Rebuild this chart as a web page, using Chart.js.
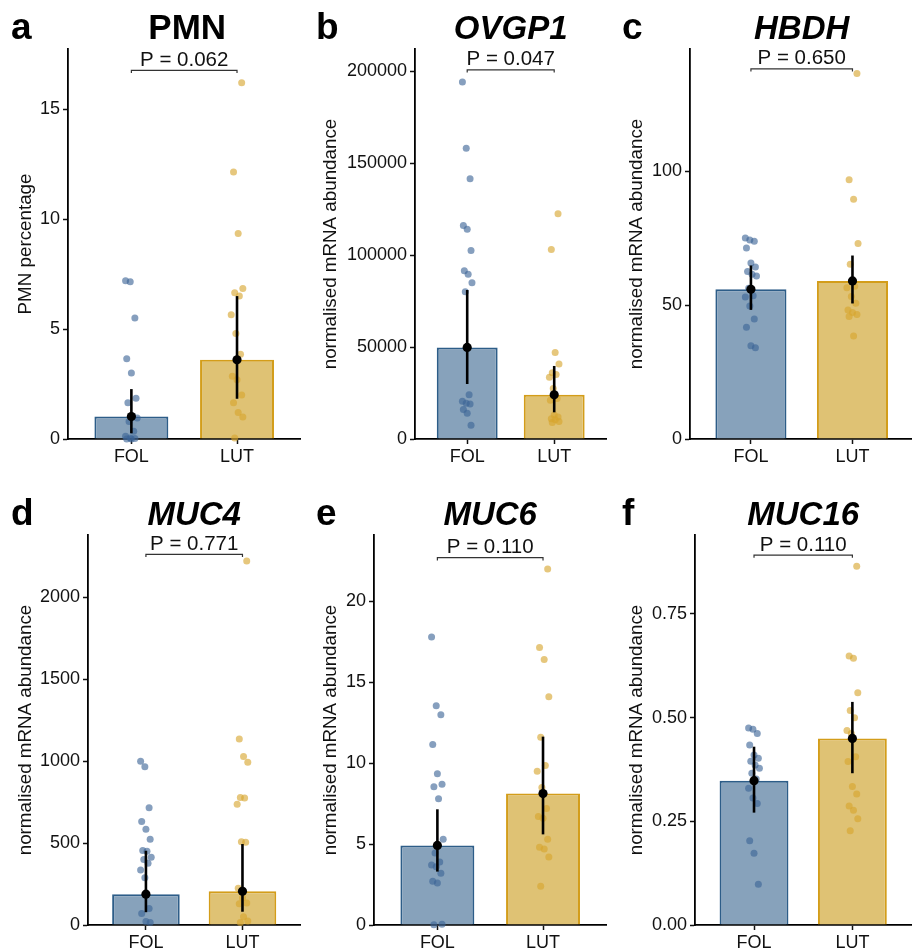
<!DOCTYPE html>
<html>
<head>
<meta charset="utf-8">
<script src="https://cdn.jsdelivr.net/npm/chart.js@4.4.0/dist/chart.umd.min.js"></script>
<style>
  body { margin: 0; background: #fff; width: 912px; height: 950px; position: relative; overflow: hidden; }
  canvas { position: absolute; }
</style>
</head>
<body>
<canvas id="ca" width="305" height="475" style="left:0px;top:0px"></canvas>
<canvas id="cb" width="306" height="475" style="left:305px;top:0px"></canvas>
<canvas id="cc" width="307" height="475" style="left:611px;top:0px"></canvas>
<canvas id="cd" width="305" height="464" style="left:0px;top:486px"></canvas>
<canvas id="ce" width="306" height="464" style="left:305px;top:486px"></canvas>
<canvas id="cf" width="305" height="464" style="left:611px;top:486px"></canvas>
<script>
const FONT = '"Liberation Sans", Arial, Helvetica, sans-serif';
const groups = ['FOL', 'LUT'];

// a: PMN
const pmnFol = [7.2, 7.15, 5.5, 3.65, 3.0, 1.85, 1.65, 1.05, 0.95, 0.8, 0.35, 0.12, 0.05, 0.02, 0, 0];
const pmnLut = [16.2, 12.15, 9.35, 6.85, 6.65, 6.5, 5.65, 4.8, 3.85, 2.85, 2.7, 2.0, 1.65, 1.2, 1.0, 0.05];
const pmnMean = [1.02, 3.6];
const pmnLow = [0.26, 1.83];
const pmnHigh = [2.27, 6.5];
const pmnTicks = [0, 5, 10, 15];

// b: OVGP1
const ovgp1Fol = [194000, 158000, 141500, 116000, 114000, 102500, 91500, 89500, 85000, 80000, 24000, 20500, 19500, 19000, 16000, 14000, 7500];
const ovgp1Lut = [122500, 103000, 47000, 40800, 36000, 35000, 33500, 27500, 22000, 21000, 13000, 12000, 11000, 10500, 9500, 9000];
const ovgp1Mean = [49800, 24000];
const ovgp1Low = [29900, 14500];
const ovgp1High = [81000, 39700];
const ovgp1Ticks = [0, 50000, 100000, 150000, 200000];

// c: HBDH
const hbdhFol = [75, 74.3, 73.8, 71.3, 65.7, 64.2, 62.5, 61.5, 60.9, 56.3, 53.5, 53, 49.7, 44.8, 41.7, 34.8, 34.1];
const hbdhLut = [136.5, 96.8, 89.5, 73, 65.2, 57, 56.5, 53.2, 50.7, 48.2, 47.2, 46.5, 45.7, 38.5];
const hbdhMean = [55.9, 59.0];
const hbdhLow = [48.2, 50.6];
const hbdhHigh = [64.8, 68.5];
const hbdhTicks = [0, 50, 100];

// d: MUC4
const muc4Fol = [1000, 965, 716, 631, 585, 523, 455, 450, 413, 400, 377, 336, 289, 100, 70, 22, 15];
const muc4Lut = [2222, 1135, 1028, 993, 778, 775, 737, 508, 505, 224, 165, 135, 130, 51, 25, 15];
const muc4Mean = [188, 206];
const muc4Low = [78, 81];
const muc4High = [453, 494];
const muc4Ticks = [0, 500, 1000, 1500, 2000];

// e: MUC6
const muc6Fol = [17.8, 13.55, 13.0, 11.15, 9.35, 8.7, 8.55, 7.8, 5.3, 4.45, 3.9, 3.7, 3.6, 3.2, 2.7, 2.6, 0.05, 0.02];
const muc6Lut = [22.0, 17.15, 16.4, 14.1, 11.6, 9.85, 9.5, 8.5, 7.2, 6.7, 6.6, 5.3, 4.8, 4.7, 4.2, 2.4];
const muc6Mean = [4.92, 8.12];
const muc6Low = [3.3, 5.6];
const muc6High = [7.15, 11.64];
const muc6Ticks = [0, 5, 10, 15, 20];

// f: MUC16
const muc16Fol = [0.475, 0.472, 0.462, 0.434, 0.41, 0.402, 0.395, 0.386, 0.378, 0.366, 0.352, 0.33, 0.306, 0.293, 0.203, 0.173, 0.098];
const muc16Lut = [0.865, 0.649, 0.643, 0.56, 0.517, 0.5, 0.469, 0.462, 0.406, 0.394, 0.334, 0.316, 0.287, 0.277, 0.256, 0.227];
const muc16Mean = [0.348, 0.45];
const muc16Low = [0.271, 0.366];
const muc16High = [0.43, 0.538];
const muc16Ticks = [0, 0.25, 0.5, 0.75];

const yLabel = 'normalised mRNA abundance';

const panels = [
  { id: 'ca', tag: 'a', title: 'PMN', italic: false, yTitle: 'PMN percentage', fol: pmnFol, lut: pmnLut,
    mean: pmnMean, low: pmnLow, high: pmnHigh, ticks: pmnTicks, yMax: 17.74, bracket: 16.77, p: 'P = 0.062',
    decimals: 0, axisLeft: 68, padRight: 0, h: 475 },
  { id: 'cb', tag: 'b', title: 'OVGP1', italic: true, yTitle: yLabel, fol: ovgp1Fol, lut: ovgp1Lut,
    mean: ovgp1Mean, low: ovgp1Low, high: ovgp1High, ticks: ovgp1Ticks, yMax: 212000, bracket: 200700, p: 'P = 0.047',
    decimals: 0, axisLeft: 110, padRight: 0, h: 475 },
  { id: 'cc', tag: 'c', title: 'HBDH', italic: true, yTitle: yLabel, fol: hbdhFol, lut: hbdhLut,
    mean: hbdhMean, low: hbdhLow, high: hbdhHigh, ticks: hbdhTicks, yMax: 145.6, bracket: 138.2, p: 'P = 0.650',
    decimals: 0, axisLeft: 79, padRight: 0, h: 475 },
  { id: 'cd', tag: 'd', title: 'MUC4', italic: true, yTitle: yLabel, fol: muc4Fol, lut: muc4Lut,
    mean: muc4Mean, low: muc4Low, high: muc4High, ticks: muc4Ticks, yMax: 2380, bracket: 2262, p: 'P = 0.771',
    decimals: 0, axisLeft: 88, padRight: 0, h: 464 },
  { id: 'ce', tag: 'e', title: 'MUC6', italic: true, yTitle: yLabel, fol: muc6Fol, lut: muc6Lut,
    mean: muc6Mean, low: muc6Low, high: muc6High, ticks: muc6Ticks, yMax: 24.1, bracket: 22.7, p: 'P = 0.110',
    decimals: 0, axisLeft: 69, padRight: 0, h: 464 },
  { id: 'cf', tag: 'f', title: 'MUC16', italic: true, yTitle: yLabel, fol: muc16Fol, lut: muc16Lut,
    mean: muc16Mean, low: muc16Low, high: muc16High, ticks: muc16Ticks, yMax: 0.9405, bracket: 0.892, p: 'P = 0.110',
    decimals: 2, axisLeft: 84, padRight: 0, h: 464 },
];

const barFill = ['#87a2bb', '#dfc274'];
const barEdge = ['#2d5d88', '#d39d1a'];
const dotFill = ['rgba(60,100,150,0.62)', 'rgba(215,165,45,0.62)'];

// fixed, repeatable horizontal spread for the dots
function jitter(i) {
  return (((i * 37) % 11) - 5) * 0.011;
}

const annotate = {
  id: 'annotate',
  afterDraw(chart, args, opts) {
    const { ctx, chartArea, scales } = chart;
    ctx.save();
    ctx.fillStyle = '#000';
    ctx.textBaseline = 'alphabetic';
    ctx.textAlign = 'left';
    ctx.font = `bold 37px ${FONT}`;
    ctx.fillText(opts.tag, 11, 38.5);
    ctx.textAlign = 'center';
    ctx.font = opts.italic ? `italic bold 33px ${FONT}` : `bold 35px ${FONT}`;
    ctx.fillText(opts.title, (chartArea.left + chartArea.right) / 2 + (opts.italic ? 0 : 3), 38.5);
    const yb = scales.y.getPixelForValue(opts.bracket);
    const xm = (scales.x.getPixelForValue(0) + scales.x.getPixelForValue(1)) / 2;
    ctx.font = `20.5px ${FONT}`;
    ctx.fillStyle = '#111';
    ctx.fillText(opts.p, xm, yb - 4.5);
    ctx.restore();
  }
};

function makeChart(p) {
  const tickLen = p.yMax * 0.007;
  const dots = [p.fol, p.lut].map((vals, g) => ({
    type: 'scatter',
    order: 4,
    data: vals.map((v, i) => ({ x: g + jitter(i + g * 5), y: v })),
    backgroundColor: dotFill[g],
    borderWidth: 0,
    pointRadius: 3.5,
    clip: false,
  }));
  const errs = groups.map((name, g) => ({
    type: 'line',
    order: 3,
    data: [{ x: g, y: p.low[g] }, { x: g, y: p.high[g] }],
    borderColor: '#000',
    borderWidth: 2.6,
    pointRadius: 0,
    fill: false,
    clip: false,
  }));
  const datasets = [
    {
      type: 'bar',
      order: 5,
      data: groups.map((name, g) => ({ x: g, y: p.mean[g] })),
      backgroundColor: barFill,
      borderColor: barEdge,
      borderWidth: 2,
      barPercentage: 0.7,
      categoryPercentage: 1,
    },
    ...dots,
    ...errs,
    {
      type: 'scatter',
      order: 2,
      data: groups.map((name, g) => ({ x: g, y: p.mean[g] })),
      backgroundColor: '#000',
      borderWidth: 0,
      pointRadius: 4.6,
      clip: false,
    },
    {
      type: 'line',
      order: 1,
      data: [
        { x: 0, y: p.bracket - tickLen },
        { x: 0, y: p.bracket },
        { x: 1, y: p.bracket },
        { x: 1, y: p.bracket - tickLen },
      ],
      borderColor: '#333',
      borderWidth: 1.2,
      pointRadius: 0,
      fill: false,
      tension: 0,
      clip: false,
    },
  ];

  return new Chart(document.getElementById(p.id), {
    type: 'bar',
    data: { datasets },
    plugins: [annotate],
    options: {
      responsive: false,
      animation: false,
      devicePixelRatio: 1,
      layout: { padding: { top: 49, left: 0, right: p.padRight, bottom: 0 } },
      plugins: {
        legend: { display: false },
        tooltip: { enabled: false },
        annotate: { tag: p.tag, title: p.title, italic: p.italic, bracket: p.bracket, p: p.p },
      },
      scales: {
        x: {
          type: 'linear',
          min: -0.6,
          max: 1.6,
          offset: false,
          afterFit: (s) => { s.height = p.h - 439; },
          afterBuildTicks: (s) => { s.ticks = groups.map((name, g) => ({ value: g })); },
          ticks: {
            callback: (v) => groups[v],
            color: '#111',
            font: { size: 18, family: FONT },
            padding: 2,
            maxRotation: 0,
            autoSkip: false,
          },
          grid: { display: true, offset: false, drawOnChartArea: false, drawTicks: true, tickLength: 5, tickColor: '#111', tickWidth: 1.5 },
          border: { display: true, color: '#000', width: 1.8 },
        },
        y: {
          type: 'linear',
          min: 0,
          max: p.yMax,
          afterFit: (s) => { s.width = p.axisLeft; },
          afterBuildTicks: (s) => { s.ticks = p.ticks.map((v) => ({ value: v })); },
          ticks: {
            callback: (v) => Number(v).toFixed(p.decimals),
            color: '#111',
            font: { size: 18, family: FONT },
            padding: 3,
            autoSkip: false,
          },
          grid: { display: true, drawOnChartArea: false, drawTicks: true, tickLength: 5, tickColor: '#111', tickWidth: 1.5 },
          border: { display: true, color: '#000', width: 1.8 },
          title: {
            display: true,
            text: p.yTitle,
            color: '#111',
            font: { size: 18.8, family: FONT },
            padding: { top: 15, bottom: 0 },
          },
        },
      },
    },
  });
}

panels.forEach(makeChart);
</script>
</body>
</html>
